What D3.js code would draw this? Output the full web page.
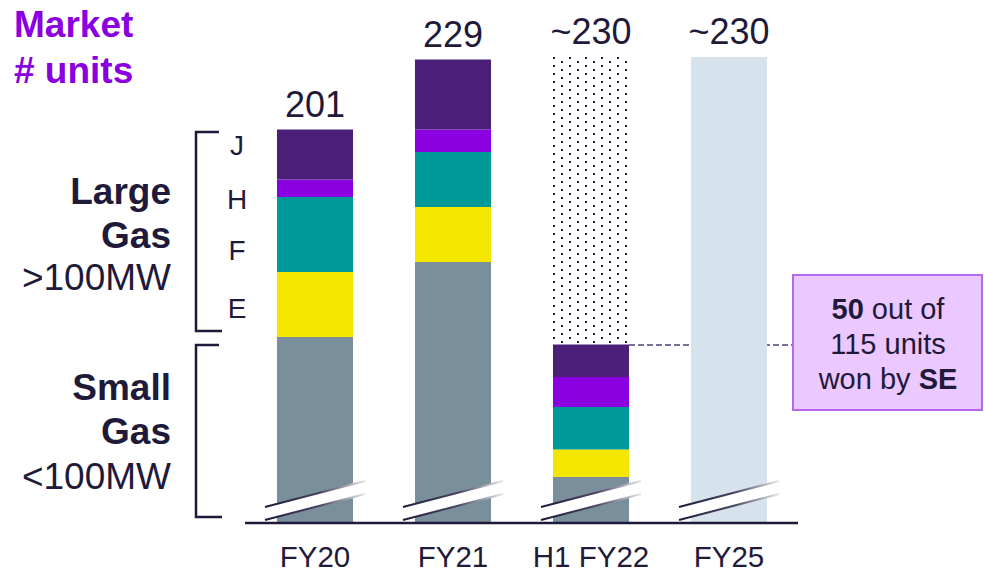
<!DOCTYPE html>
<html><head><meta charset="utf-8">
<script src="https://cdn.jsdelivr.net/npm/d3@7"></script>
<style>body{margin:0;background:#fff}svg{display:block;font-family:"Liberation Sans",Arial,sans-serif}</style>
</head><body><svg id="c" width="984" height="578"></svg>
<script>
const categories = ["FY20","FY21","H1 FY22","FY25"];
const segments = ["Small","E","F","H","J"];
const smallVals = [118, 148, 62, 0];
const eVals = [26, 22, 11, 0];
const fVals = [30, 22, 17, 0];
const hVals = [7, 9, 12, 0];
const jVals = [20, 28, 13, 0];
const topLabels = ["201","229","~230","~230"];
const expectedTotals = [null, null, 230, 230];
const axisFloor = 44; // hidden by axis break
const colors = {Small:"#7a8f9c",E:"#f5e600",F:"#009999",H:"#8a00e0",J:"#4b1f78"};
const ink = "#1f1a3a";

const svg = d3.select("#c");
const defs = svg.append("defs");
const pat = defs.append("pattern").attr("id","dots").attr("patternUnits","userSpaceOnUse")
  .attr("width",16).attr("height",8).attr("x",553).attr("y",57);
pat.append("rect").attr("x",0).attr("y",0).attr("width",2).attr("height",2).attr("fill",ink);
pat.append("rect").attr("x",8).attr("y",4).attr("width",2).attr("height",2).attr("fill",ink);
const grad = defs.append("linearGradient").attr("id","brk").attr("x1","0%").attr("x2","100%");
grad.append("stop").attr("offset","0%").attr("stop-color",ink);
grad.append("stop").attr("offset","55%").attr("stop-color","#4a4560");
grad.append("stop").attr("offset","100%").attr("stop-color","#e6e6ea");

const x = d3.scaleBand().domain(categories).range([246,798]).paddingInner(0.449).paddingOuter(0.2245);
const y = d3.scaleLinear().domain([axisFloor,230]).range([522,57]);

const rows = categories.map((c,i)=>({cat:c,Small:smallVals[i],E:eVals[i],F:fVals[i],H:hVals[i],J:jVals[i]}));
const stacked = d3.stack().keys(segments)(rows);
const totals = rows.map(r=>segments.reduce((s,k)=>s+r[k],0));

// expected (dotted remainder)
categories.forEach((c,i)=>{
  if(expectedTotals[i]==null || totals[i]===0) return;
  svg.append("rect").attr("x",x(c)).attr("width",x.bandwidth())
    .attr("y",y(expectedTotals[i])).attr("height",y(totals[i])-y(expectedTotals[i])).attr("fill","url(#dots)");
});

// dashed connector
const dy = Math.round(y(totals[2]));
svg.append("line").attr("x1",x("H1 FY22")+x.bandwidth()).attr("x2",793)
  .attr("y1",dy).attr("y2",dy)
  .attr("stroke","#4e4080").attr("stroke-width",1.3).attr("stroke-dasharray","6,3");

// FY25 expected bar
categories.forEach((c,i)=>{
  if(expectedTotals[i]==null || totals[i]!==0) return;
  svg.append("rect").attr("x",x(c)).attr("width",x.bandwidth())
    .attr("y",y(expectedTotals[i])).attr("height",y(axisFloor)-y(expectedTotals[i])).attr("fill","#d6e2ec");
});

stacked.forEach(layer=>{
  svg.append("g").selectAll("rect").data(layer.filter(d=>d[1]>d[0])).join("rect")
    .attr("x",d=>x(d.data.cat)).attr("width",x.bandwidth())
    .attr("y",d=>y(d[1])).attr("height",d=>y(Math.max(d[0],axisFloor))-y(d[1]))
    .attr("fill",colors[layer.key]);
});

// axis breaks
categories.forEach(c=>{
  const x0 = x(c)-12, x1 = x(c)+x.bandwidth()+12;
  const g = svg.append("g");
  g.append("path").attr("d",`M${x0},507 L${x1},481 L${x1},494 L${x0},520 Z`).attr("fill","#fff");
  g.append("line").attr("x1",x0).attr("y1",507).attr("x2",x1).attr("y2",481).attr("stroke","url(#brk)").attr("stroke-width",2);
  g.append("line").attr("x1",x0).attr("y1",520).attr("x2",x1).attr("y2",494).attr("stroke","url(#brk)").attr("stroke-width",2);
});

// baseline
svg.append("line").attr("x1",245).attr("x2",798).attr("y1",523).attr("y2",523).attr("stroke",ink).attr("stroke-width",2.5);

// top labels
svg.append("g").selectAll("text").data(categories).join("text")
  .attr("x",d=>x(d)+x.bandwidth()/2)
  .attr("y",(d,i)=>y(expectedTotals[i]!=null?expectedTotals[i]:totals[i])-13)
  .attr("text-anchor","middle").attr("font-size",36).attr("fill",ink).text((d,i)=>topLabels[i]);

// x labels
svg.append("g").selectAll("text").data(categories).join("text")
  .attr("x",d=>x(d)+x.bandwidth()/2).attr("y",567)
  .attr("text-anchor","middle").attr("font-size",29.5).attr("fill",ink).text(d=>d);

// title
svg.append("text").attr("x",14).attr("y",37).attr("font-size",37).attr("font-weight","bold").attr("fill","#8a00e0").text("Market");
svg.append("text").attr("x",14).attr("y",83).attr("font-size",37).attr("font-weight","bold").attr("fill","#8a00e0").text("# units");

// brackets
svg.append("path").attr("d","M219,132 H196 V331 H222").attr("fill","none").attr("stroke",ink).attr("stroke-width",2.5);
svg.append("path").attr("d","M219,345 H196 V517 H222").attr("fill","none").attr("stroke",ink).attr("stroke-width",2.5);

// class letters
[["J",155],["H",209],["F",260],["E",318]].forEach(([t,yy])=>{
  svg.append("text").attr("x",237).attr("y",yy).attr("text-anchor","middle").attr("font-size",28).attr("fill",ink).text(t);
});

// group labels
[["Large",204,true],["Gas",248,true],[">100MW",290,false],["Small",400,true],["Gas",444,true],["<100MW",489,false]].forEach(([t,yy,b])=>{
  svg.append("text").attr("x",171).attr("y",yy).attr("text-anchor","end").attr("font-size",37)
    .attr("font-weight",b?"bold":"normal").attr("fill",ink).text(t);
});

// callout
svg.append("rect").attr("x",793).attr("y",275).attr("width",189).attr("height",135)
  .attr("fill","#ebc8ff").attr("stroke","#b567f0").attr("stroke-width",2);
const lines = [[["50",true],[" out of",false]],[["115 units",false]],[["won by ",false],["SE",true]]];
lines.forEach((ln,i)=>{
  const t = svg.append("text").attr("x",888).attr("y",319+i*35).attr("text-anchor","middle").attr("font-size",29).attr("fill",ink);
  ln.forEach(([s,b])=>t.append("tspan").attr("font-weight",b?"bold":"normal").text(s));
});
</script></body></html>
